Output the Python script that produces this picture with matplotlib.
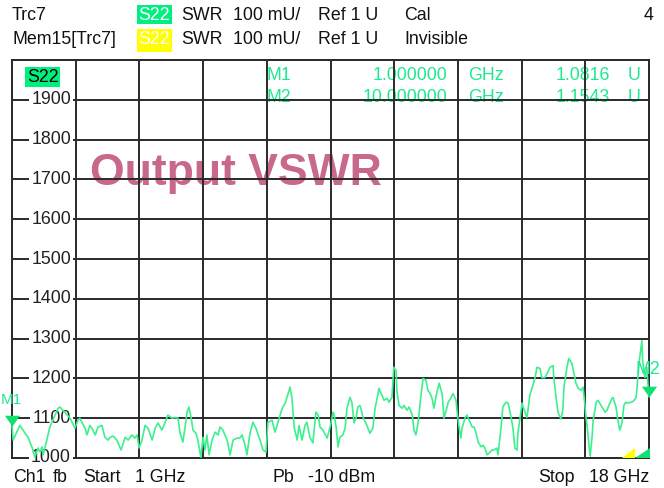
import numpy as np
import matplotlib
matplotlib.use("Agg")
import matplotlib.pyplot as plt
from matplotlib.patches import Rectangle, Polygon
from matplotlib.transforms import blended_transform_factory

plt.rcParams['font.family'] = ['Liberation Sans', 'DejaVu Sans']

# ---------------- data ----------------
freq_ghz = [
    1.00, 1.03, 1.21, 1.35, 1.43, 1.56, 1.61, 1.69, 1.75, 1.80,
    1.83, 1.93, 2.01, 2.09, 2.23, 2.28, 2.41, 2.55, 2.68, 2.76,
    2.81, 2.95, 3.00, 3.08, 3.16, 3.22, 3.30, 3.40, 3.48, 3.56,
    3.62, 3.70, 3.80, 3.91, 4.02, 4.10, 4.20, 4.28, 4.34, 4.39,
    4.47, 4.55, 4.63, 4.74, 4.82, 4.90, 5.00, 5.08, 5.16, 5.27,
    5.35, 5.43, 5.48, 5.56, 5.62, 5.67, 5.72, 5.78, 5.83, 5.91,
    5.96, 6.04, 6.10, 6.15, 6.20, 6.26, 6.34, 6.42, 6.50, 6.55,
    6.63, 6.74, 6.82, 6.90, 7.00, 7.08, 7.14, 7.22, 7.27, 7.35,
    7.43, 7.51, 7.57, 7.62, 7.70, 7.78, 7.83, 7.94, 8.02, 8.10,
    8.21, 8.29, 8.37, 8.42, 8.47, 8.53, 8.61, 8.66, 8.74, 8.82,
    8.87, 8.95, 9.03, 9.11, 9.17, 9.22, 9.30, 9.41, 9.49, 9.57,
    9.59, 9.65, 9.70, 9.75, 9.83, 9.89, 9.94, 10.02, 10.07, 10.13,
    10.18, 10.23, 10.29, 10.37, 10.47, 10.55, 10.63, 10.69, 10.77, 10.79,
    10.87, 10.93, 11.01, 11.06, 11.14, 11.19, 11.25, 11.27, 11.33, 11.41,
    11.46, 11.54, 11.60, 11.68, 11.73, 11.78, 11.84, 11.92, 11.97, 12.05,
    12.10, 12.16, 12.21, 12.26, 12.34, 12.40, 12.48, 12.53, 12.61, 12.64,
    12.72, 12.77, 12.85, 12.88, 12.93, 12.98, 13.01, 13.09, 13.14, 13.20,
    13.28, 13.33, 13.38, 13.44, 13.52, 13.57, 13.62, 13.68, 13.73, 13.81,
    13.86, 13.94, 13.97, 14.05, 14.10, 14.18, 14.24, 14.32, 14.37, 14.42,
    14.48, 14.50, 14.56, 14.61, 14.64, 14.69, 14.74, 14.77, 14.82, 14.90,
    14.96, 15.01, 15.09, 15.14, 15.22, 15.28, 15.36, 15.44, 15.46, 15.52,
    15.57, 15.65, 15.70, 15.73, 15.81, 15.86, 15.94, 16.00, 16.05, 16.11,
    16.19, 16.24, 16.27, 16.32, 16.37, 16.40, 16.43, 16.48, 16.51, 16.59,
    16.64, 16.72, 16.77, 16.83, 16.88, 16.93, 17.01, 17.04, 17.12, 17.17,
    17.22, 17.28, 17.33, 17.38, 17.44, 17.52, 17.57, 17.65, 17.67, 17.70,
    17.75, 17.81, 17.83, 17.89, 17.94, 17.97, 18.00,
]
swr_mu = [
    1082, 1045, 1082, 1062, 1052, 1020, 1002, 1025, 1015, 1028,
    1008, 1045, 1078, 1095, 1125, 1128, 1115, 1100, 1075, 1095,
    1100, 1075, 1058, 1082, 1070, 1058, 1078, 1082, 1052, 1045,
    1052, 1055, 1045, 1020, 1052, 1045, 1058, 1050, 1058, 1025,
    1045, 1082, 1075, 1045, 1075, 1088, 1070, 1088, 1108, 1100,
    1102, 1100, 1065, 1040, 1078, 1115, 1128, 1102, 1070, 1062,
    1045, 1002, 1052, 1020, 1058, 1008, 1045, 1065, 1058, 1078,
    1070, 1045, 1008, 1045, 1050, 1050, 1058, 1032, 1008, 1062,
    1090, 1075, 1058, 1045, 1020, 1015, 1090, 1095, 1065, 1090,
    1125, 1138, 1162, 1178, 1152, 1078, 1045, 1082, 1045, 1082,
    1090, 1052, 1038, 1115, 1108, 1078, 1070, 1050, 1078, 1115,
    1112, 1078, 1028, 1052, 1058, 1075, 1125, 1152, 1140, 1088,
    1100, 1128, 1132, 1102, 1082, 1062, 1075, 1125, 1162, 1175,
    1158, 1145, 1150, 1140, 1152, 1228, 1220, 1170, 1132, 1125,
    1132, 1120, 1128, 1108, 1070, 1058, 1090, 1162, 1200, 1195,
    1170, 1162, 1150, 1125, 1165, 1188, 1160, 1100, 1128, 1140,
    1152, 1162, 1145, 1115, 1078, 1050, 1075, 1100, 1108, 1095,
    1078, 1078, 1065, 1040, 1028, 1032, 1025, 1008, 1012, 1020,
    1020, 1025, 1008, 1075, 1128, 1140, 1138, 1102, 1075, 1025,
    1020, 1062, 1102, 1138, 1128, 1115, 1102, 1120, 1158, 1182,
    1202, 1228, 1225, 1202, 1202, 1212, 1228, 1232, 1202, 1152,
    1115, 1098, 1120, 1178, 1228, 1250, 1238, 1212, 1188, 1175,
    1170, 1178, 1152, 1102, 1062, 1028, 1005, 1052, 1095, 1140,
    1145, 1132, 1125, 1115, 1120, 1132, 1150, 1152, 1128, 1095,
    1070, 1088, 1132, 1140, 1138, 1140, 1142, 1150, 1165, 1202,
    1250, 1295, 1245, 1202, 1228, 1188, 1154,
]
assert len(freq_ghz) == len(swr_mu)

marker_freq = [1.0, 18.0]          # display positions of marker triangles
marker_swr = [1081.6, 1154.3]
marker_names = ["M1", "M2"]
marker_set_freq = ["1.000000", "10.000000"]
marker_vals = ["1.0816", "1.1543"]

y_ticks = list(range(1000, 2001, 100))
y_labels = [str(v) for v in range(1000, 2000, 100)]
f_start, f_stop = 1.0, 18.0

# ---------------- figure ----------------
W, H = 664, 488
fig = plt.figure(figsize=(W / 100, H / 100), dpi=100)
fig.patch.set_facecolor('white')

L, R, T, B = 12, 649, 60, 458
ax = fig.add_axes([L / W, 1 - B / H, (R - L) / W, (B - T) / H])
ax.set_xlim(f_start, f_stop)
ax.set_ylim(1000, 2000)
ax.set_xticks(np.linspace(f_start, f_stop, 11))
ax.set_yticks(y_ticks)
ax.tick_params(length=0, labelleft=False, labelbottom=False)
grid_c = '#2a2a2a'
ax.grid(True, color=grid_c, linewidth=1.4, zorder=2)
ax.set_axisbelow(False)
for s in ax.spines.values():
    s.set_color(grid_c)
    s.set_linewidth(1.4)

FS = 12.8
GREEN_TXT = '#1ee890'
TRACE = '#3cf08e'

# y labels with white background, over the grid lines
tr = blended_transform_factory(ax.transAxes, ax.transData)
xl = (71 - L) / (R - L)
for v, lab in zip(y_ticks[:-1], y_labels):
    ax.text(xl, v, lab, transform=tr, ha='right', va='center', fontsize=FS,
            color='#222222', zorder=3,
            bbox=dict(facecolor='white', edgecolor='none', pad=1.5))

# title
ax.text((90 - L) / (R - L), 1 - (174 - T) / (B - T), "Output VSWR",
        transform=ax.transAxes, ha='left', va='center', fontsize=32,
        fontweight='bold', color='#c8688c', zorder=1)

# marker info table (under grid)
def atxt(x, y, s, ha='left', color=GREEN_TXT, **kw):
    ax.text((x - L) / (R - L), 1 - (y - T) / (B - T), s, transform=ax.transAxes,
            ha=ha, va='center', fontsize=FS, color=color, zorder=1, **kw)

rows_y = [75, 97]
for yy, nm, fq, vl in zip(rows_y, marker_names, marker_set_freq, marker_vals):
    atxt(267, yy, nm)
    atxt(447, yy, fq, ha='right')
    atxt(468, yy, "GHz")
    atxt(610, yy, vl, ha='right')
    atxt(628, yy, "U")

# S22 label inside plot
atxt(27, 77, "S22", color='black',
     bbox=dict(facecolor='#00f080', edgecolor='none', pad=1.2))

# trace
ax.plot(freq_ghz, swr_mu, color=TRACE, linewidth=1.2, zorder=4, clip_on=False)

# marker triangles (tip at the marker value)
tri = [(-0.7, 1.0), (0.7, 1.0), (0.0, 0.0)]
ax.plot(marker_freq, marker_swr, linestyle='none', marker=tri, markersize=15.5,
        color='#10e070', markeredgewidth=0, zorder=5, clip_on=False)

def ftxt(x, y, s, ha='left', fs=FS, **kw):
    fig.text(x / W, 1 - y / H, s, ha=ha, va='center', fontsize=fs, **kw)

ftxt(1, 400, "M1", ha='left', fs=11, color=GREEN_TXT)
ftxt(660, 370, "M2", ha='right', color=GREEN_TXT)

# header
fig.patches.append(Rectangle((137 / W, 1 - 24 / H), 35 / W, 19 / H,
                             transform=fig.transFigure, facecolor='#00f080',
                             edgecolor='none', zorder=1))
fig.patches.append(Rectangle((137 / W, 1 - 52 / H), 35 / W, 23 / H,
                             transform=fig.transFigure, facecolor='#ffff00',
                             edgecolor='none', zorder=1))
hdr = '#111111'
for yy, name, box_col, stat in [(15, "Trc7", 'white', "Cal"),
                                (40, "Mem15[Trc7]", 'white', "Invisible")]:
    ftxt(12, yy, name, color=hdr)
    ftxt(154.5, yy, "S22", ha='center', color=box_col, zorder=2)
    ftxt(181, yy, "SWR", color=hdr)
    ftxt(233, yy, "100 mU/", color=hdr)
    ftxt(318, yy, "Ref 1 U", color=hdr)
    ftxt(404, yy, stat, color=hdr)
ftxt(654, 15, "4", ha='right', color=hdr)

# footer
ftxt(13, 477, "Ch1", color=hdr)
ftxt(53, 477, "fb", color=hdr)
ftxt(83, 477, "Start", color=hdr)
ftxt(135, 477, "1 GHz", color=hdr)
ftxt(273, 477, "Pb", color=hdr)
ftxt(308, 477, "-10 dBm", color=hdr)
ftxt(538, 477, "Stop", color=hdr)
ftxt(649, 477, "18 GHz", ha='right', color=hdr)

# small reference-level indicators, bottom right
fig.patches.append(Polygon([(622 / W, 1 - 458 / H), (635 / W, 1 - 458 / H),
                            (635 / W, 1 - 448 / H)], closed=True,
                           transform=fig.transFigure, facecolor='#ffff00',
                           edgecolor='none', zorder=6))
fig.patches.append(Polygon([(635 / W, 1 - 458 / H), (650 / W, 1 - 458 / H),
                            (650 / W, 1 - 448 / H)], closed=True,
                           transform=fig.transFigure, facecolor='#10e070',
                           edgecolor='none', zorder=6))

fig.savefig("out.png", dpi=100, facecolor='white')
